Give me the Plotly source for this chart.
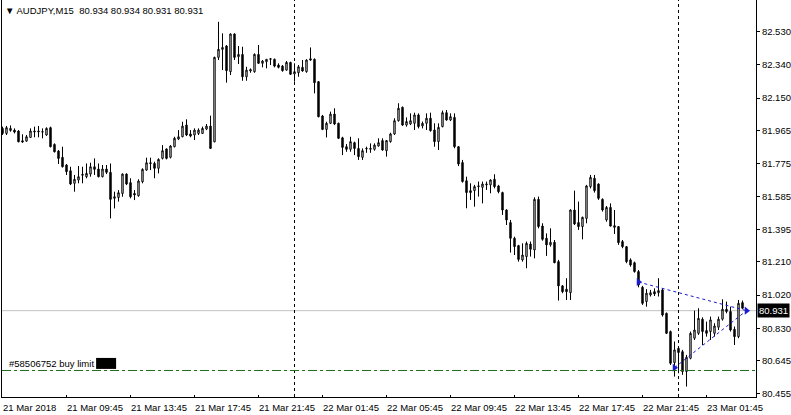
import plotly.graph_objects as go

# ---------------- data ----------------
open_ = [81.976, 81.947, 81.964, 81.966, 81.961, 81.905, 81.903, 81.924, 81.955, 81.961,
         81.957, 81.938, 81.980, 81.884, 81.846, 81.810, 81.766, 81.733, 81.661, 81.680,
         81.707, 81.699, 81.714, 81.756, 81.743, 81.699, 81.743, 81.724, 81.575, 81.580,
         81.603, 81.714, 81.665, 81.603, 81.590, 81.670, 81.737, 81.779, 81.775, 81.747,
         81.804, 81.858, 81.810, 81.871, 81.915, 81.928, 81.995, 81.944, 81.938, 81.947,
         81.947, 81.972, 81.989, 81.899, 82.383, 82.429, 82.448, 82.301, 82.517, 82.387,
         82.400, 82.272, 82.305, 82.301, 82.400, 82.349, 82.358, 82.372, 82.372, 82.339,
         82.333, 82.310, 82.354, 82.288, 82.295, 82.326, 82.301, 82.375, 82.372, 82.244,
         82.047, 81.970, 82.005, 82.058, 82.005, 81.922, 81.871, 81.856, 81.894, 81.861,
         81.810, 81.858, 81.856, 81.856, 81.875, 81.906, 81.848, 81.900, 81.944, 82.020,
         82.097, 81.995, 82.001, 82.005, 82.053, 81.990, 82.005, 82.034, 81.967, 81.900,
         81.986, 82.066, 82.024, 82.039, 81.871, 81.780, 81.676, 81.619, 81.619, 81.642,
         81.638, 81.652, 81.652, 81.684, 81.646, 81.608, 81.508, 81.436, 81.346, 81.304,
         81.222, 81.241, 81.313, 81.279, 81.569, 81.416, 81.346, 81.308, 81.323, 81.212,
         81.073, 81.054, 81.034, 81.508, 81.436, 81.413, 81.460, 81.642, 81.690, 81.657,
         81.569, 81.451, 81.523, 81.418, 81.413, 81.327, 81.298, 81.222, 81.206, 81.155,
         81.065, 80.983, 81.021, 81.040, 81.034, 81.050, 80.916, 80.811, 80.633, 80.715,
         80.696, 80.582, 80.658, 80.773, 80.801, 80.882, 80.817, 80.811, 80.801, 80.836,
         80.882, 80.939, 80.926, 80.824, 80.782, 80.977, 80.934]
high = [81.986, 81.990, 81.993, 81.976, 81.966, 81.942, 81.938, 81.976, 81.986, 81.990,
        81.976, 81.982, 81.986, 81.890, 81.852, 81.871, 81.772, 81.756, 81.709, 81.760,
        81.756, 81.775, 81.779, 81.804, 81.775, 81.766, 81.766, 81.775, 81.613, 81.622,
        81.718, 81.718, 81.690, 81.622, 81.684, 81.747, 81.808, 81.808, 81.785, 81.804,
        81.880, 81.861, 81.880, 81.928, 81.966, 82.014, 82.028, 81.966, 81.976, 81.976,
        81.986, 82.001, 82.049, 82.387, 82.587, 82.521, 82.454, 82.521, 82.521, 82.448,
        82.444, 82.329, 82.320, 82.406, 82.454, 82.368, 82.372, 82.376, 82.376, 82.349,
        82.339, 82.362, 82.358, 82.349, 82.339, 82.368, 82.372, 82.440, 82.377, 82.247,
        82.053, 82.014, 82.072, 82.091, 82.009, 81.928, 81.886, 81.928, 81.900, 81.919,
        81.861, 81.871, 81.890, 81.890, 81.919, 81.919, 81.909, 81.951, 82.034, 82.120,
        82.101, 82.039, 82.062, 82.066, 82.062, 82.015, 82.062, 82.066, 82.005, 82.005,
        82.078, 82.081, 82.062, 82.062, 81.875, 81.795, 81.699, 81.661, 81.652, 81.671,
        81.671, 81.671, 81.684, 81.713, 81.652, 81.613, 81.512, 81.451, 81.355, 81.308,
        81.317, 81.327, 81.327, 81.581, 81.585, 81.432, 81.374, 81.403, 81.336, 81.222,
        81.078, 81.117, 81.512, 81.619, 81.556, 81.470, 81.652, 81.709, 81.709, 81.661,
        81.575, 81.531, 81.546, 81.508, 81.416, 81.336, 81.302, 81.231, 81.212, 81.164,
        81.073, 81.054, 81.050, 81.059, 81.117, 81.059, 80.920, 80.817, 80.754, 80.725,
        80.706, 80.677, 80.811, 80.931, 80.945, 80.893, 80.868, 80.897, 80.859, 80.897,
        80.996, 80.983, 80.954, 80.840, 80.992, 80.989, 80.934]
low = [81.938, 81.938, 81.957, 81.947, 81.896, 81.894, 81.899, 81.921, 81.925, 81.925,
       81.919, 81.934, 81.867, 81.838, 81.772, 81.752, 81.709, 81.651, 81.613, 81.661,
       81.661, 81.690, 81.699, 81.709, 81.695, 81.695, 81.714, 81.460, 81.517, 81.556,
       81.584, 81.651, 81.575, 81.565, 81.584, 81.661, 81.733, 81.737, 81.690, 81.718,
       81.798, 81.798, 81.804, 81.867, 81.909, 81.925, 81.932, 81.925, 81.909, 81.938,
       81.944, 81.966, 81.858, 81.896, 82.368, 82.310, 82.238, 82.282, 82.368, 82.345,
       82.249, 82.249, 82.295, 82.295, 82.345, 82.326, 82.320, 82.339, 82.326, 82.320,
       82.301, 82.307, 82.282, 82.244, 82.272, 82.301, 82.295, 82.364, 82.177, 82.039,
       81.966, 81.924, 82.001, 81.995, 81.915, 81.823, 81.842, 81.842, 81.823, 81.795,
       81.795, 81.836, 81.836, 81.848, 81.871, 81.848, 81.814, 81.894, 81.938, 82.015,
       81.990, 81.986, 81.995, 81.967, 81.976, 81.976, 81.967, 81.957, 81.871, 81.852,
       81.982, 82.020, 82.018, 81.862, 81.760, 81.665, 81.518, 81.566, 81.527, 81.585,
       81.546, 81.623, 81.604, 81.632, 81.604, 81.480, 81.422, 81.264, 81.250, 81.212,
       81.212, 81.174, 81.241, 81.231, 81.403, 81.332, 81.245, 81.298, 81.203, 80.989,
       81.031, 80.992, 80.992, 81.422, 81.394, 81.340, 81.432, 81.632, 81.608, 81.566,
       81.499, 81.441, 81.413, 81.371, 81.308, 81.289, 81.203, 81.183, 81.149, 81.065,
       80.964, 80.954, 81.012, 81.015, 81.012, 80.897, 80.798, 80.620, 80.553, 80.572,
       80.563, 80.496, 80.652, 80.763, 80.792, 80.734, 80.782, 80.763, 80.782, 80.820,
       80.874, 80.916, 80.811, 80.734, 80.773, 80.939, 80.931]
close = [81.947, 81.980, 81.976, 81.955, 81.899, 81.898, 81.928, 81.961, 81.960, 81.957,
         81.955, 81.976, 81.871, 81.842, 81.804, 81.756, 81.728, 81.657, 81.684, 81.699,
         81.712, 81.718, 81.756, 81.741, 81.699, 81.743, 81.724, 81.569, 81.584, 81.607,
         81.714, 81.657, 81.584, 81.594, 81.674, 81.741, 81.779, 81.775, 81.747, 81.798,
         81.848, 81.804, 81.875, 81.919, 81.928, 81.989, 81.938, 81.932, 81.966, 81.966,
         81.976, 81.989, 81.861, 82.383, 82.429, 82.440, 82.307, 82.517, 82.383, 82.400,
         82.272, 82.310, 82.313, 82.400, 82.349, 82.362, 82.372, 82.375, 82.333, 82.326,
         82.307, 82.354, 82.286, 82.301, 82.329, 82.305, 82.368, 82.368, 82.238, 82.043,
         81.970, 82.005, 82.058, 82.001, 81.919, 81.867, 81.856, 81.900, 81.861, 81.814,
         81.848, 81.861, 81.861, 81.880, 81.894, 81.852, 81.906, 81.944, 82.020, 82.091,
         81.995, 82.015, 82.020, 82.053, 81.986, 82.005, 82.034, 81.963, 81.900, 81.982,
         82.066, 82.024, 82.043, 81.871, 81.772, 81.671, 81.608, 81.608, 81.642, 81.646,
         81.657, 81.657, 81.680, 81.642, 81.613, 81.508, 81.451, 81.346, 81.298, 81.225,
         81.250, 81.317, 81.283, 81.569, 81.413, 81.340, 81.308, 81.323, 81.206, 81.073,
         81.040, 81.040, 81.508, 81.428, 81.413, 81.466, 81.646, 81.695, 81.619, 81.575,
         81.508, 81.523, 81.416, 81.409, 81.321, 81.298, 81.212, 81.193, 81.155, 81.078,
         80.973, 81.031, 81.034, 81.027, 81.046, 80.906, 80.801, 80.629, 80.706, 80.691,
         80.582, 80.664, 80.801, 80.820, 80.887, 80.811, 80.801, 80.878, 80.843, 80.882,
         80.939, 80.926, 80.820, 80.782, 80.973, 80.945, 80.931]

time_tick_bars = [0, 16, 32, 48, 64, 80, 96, 112, 128, 144, 160, 176]
time_tick_labels = ["21 Mar 2018", "21 Mar 09:45", "21 Mar 13:45", "21 Mar 17:45",
                    "21 Mar 21:45", "22 Mar 01:45", "22 Mar 05:45", "22 Mar 09:45",
                    "22 Mar 13:45", "22 Mar 17:45", "22 Mar 21:45", "23 Mar 01:45"]
price_ticks = [82.530, 82.340, 82.150, 81.965, 81.775, 81.585, 81.395, 81.210,
               81.020, 80.830, 80.645, 80.455]
separator_bars = [73, 169]          # 22 Mar 00:00, 23 Mar 00:00
bid = 80.931
buy_limit_price = 80.588
trade_open_bars = [159, 168]
trade_open_prices = [81.095, 80.604]
trade_close_bar = 186
trade_close_price = 80.931

# ---------------- figure ----------------
FONT = "Liberation Sans, Arial, sans-serif"
x = list(range(len(open_)))

fig = go.Figure()
fig.add_trace(go.Candlestick(
    x=x, open=open_, high=high, low=low, close=close,
    increasing=dict(line=dict(color="black", width=1), fillcolor="white"),
    decreasing=dict(line=dict(color="black", width=1), fillcolor="black"),
    whiskerwidth=0, showlegend=False, hoverinfo="skip"))

# trade lines
for ob, op in zip(trade_open_bars, trade_open_prices):
    fig.add_trace(go.Scatter(
        x=[ob, trade_close_bar], y=[op, trade_close_price], mode="lines",
        line=dict(color="#1a1ad0", width=1, dash="3px,3px"),
        showlegend=False, hoverinfo="skip"))
fig.add_trace(go.Scatter(
    x=trade_open_bars + [trade_close_bar],
    y=trade_open_prices + [trade_close_price], mode="markers",
    marker=dict(symbol="triangle-right", size=7, color="#1a1ad0"),
    showlegend=False, hoverinfo="skip"))

shapes = []
for sb in separator_bars:
    shapes.append(dict(type="line", xref="x", yref="paper", x0=sb, x1=sb, y0=0, y1=1,
                       line=dict(color="black", width=1, dash="3px,3px")))
shapes.append(dict(type="line", xref="paper", yref="y", x0=0, x1=1, y0=bid, y1=bid,
                   line=dict(color="#c0c0c0", width=1), layer="below"))
shapes.append(dict(type="line", xref="paper", yref="y", x0=0, x1=1,
                   y0=buy_limit_price, y1=buy_limit_price,
                   line=dict(color="#1f6f1f", width=1, dash="9px,3px,3px,3px")))
shapes.append(dict(type="rect", xref="x", yref="y", x0=23.4, x1=28.4,
                   y0=buy_limit_price + 0.009, y1=buy_limit_price + 0.072,
                   fillcolor="black", line=dict(width=0)))

annotations = []
for tb, tl in zip(time_tick_bars, time_tick_labels):
    annotations.append(dict(x=tb, y=0, xref="x", yref="paper", text=tl,
                            xanchor="left", yanchor="top", xshift=-1.5, yshift=-3,
                            showarrow=False, font=dict(family=FONT, size=9.5, color="black")))
annotations.append(dict(x=0, y=1, xref="paper", yref="paper",
                        text="▼ AUDJPY,M15&nbsp;&nbsp;80.934 80.934 80.931 80.931",
                        xanchor="left", yanchor="top", xshift=1, yshift=-3, showarrow=False,
                        font=dict(family=FONT, size=9.5, color="black")))
annotations.append(dict(x=1, y=bid, xref="paper", yref="y", text="80.931",
                        xanchor="left", yanchor="middle", xshift=1, showarrow=False,
                        bgcolor="black", borderpad=1,
                        font=dict(family=FONT, size=9.5, color="white")))
annotations.append(dict(x=1, y=buy_limit_price, xref="x", yref="y",
                        text="#58506752 buy limit", xanchor="left", yanchor="bottom",
                        yshift=-1, showarrow=False,
                        font=dict(family=FONT, size=9.5, color="black")))

fig.update_layout(
    width=791, height=415,
    margin=dict(l=2, r=35, t=0, b=18),
    paper_bgcolor="white", plot_bgcolor="white",
    boxgap=0.5,
    shapes=shapes, annotations=annotations,
    xaxis=dict(range=[-0.125, 188.375], rangeslider=dict(visible=False),
               tickvals=time_tick_bars, showticklabels=False,
               ticks="inside", ticklen=2, tickcolor="black",
               showline=True, linecolor="black", linewidth=1,
               showgrid=False, zeroline=False),
    yaxis=dict(range=[80.436, 82.712], side="right",
               tickvals=price_ticks, ticktext=[f"{v:.3f}" for v in price_ticks],
               ticks="outside", ticklen=3, tickcolor="black",
               tickfont=dict(family=FONT, size=9.5, color="black"),
               showline=True, linecolor="black", linewidth=1, mirror=True,
               showgrid=False, zeroline=False),
)

fig.write_html("out.html", config={"displayModeBar": False},
               post_script="document.body.style.margin='0';document.body.style.padding='0';")
